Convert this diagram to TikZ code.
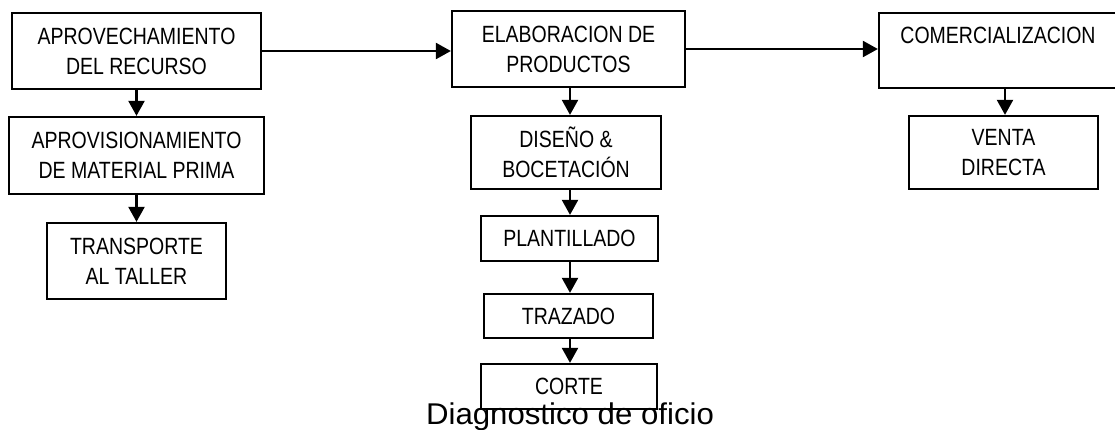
\documentclass[tikz,border=0pt]{standalone}
\usepackage{fontspec}
\setmainfont{Liberation Sans}
\newfontfamily\boxfont{Liberation Sans}[FakeStretch=0.83]
\newfontfamily\capfont{Liberation Sans}[FakeStretch=1.04]
\usetikzlibrary{arrows.meta}
\begin{document}
\begin{tikzpicture}[x=1pt,y=-1pt,
  box/.style={draw,line width=2.3pt,inner sep=0pt,align=center,
    font=\boxfont\fontsize{23.5}{30}\selectfont},
  arr/.style={line width=2.3pt,-{Triangle[length=15pt,width=16pt]}}]
\useasboundingbox (0,0) rectangle (1115,429);
\clip (0,0) rectangle (1115,429);
% left column
\node[box,minimum width=249pt,minimum height=76pt] (apr) at (136.5,51) {APROVECHAMIENTO\\DEL RECURSO};
\node[box,minimum width=255pt,minimum height=77pt] (apv) at (136.5,155.5) {APROVISIONAMIENTO\\DE MATERIAL PRIMA};
\node[box,minimum width=179pt,minimum height=76pt] (tra) at (136.5,261) {TRANSPORTE\\AL TALLER};
% middle column
\node[box,minimum width=233pt,minimum height=76pt] (ela) at (568.5,49) {ELABORACION DE\\PRODUCTOS};
\node[box,minimum width=190pt,minimum height=73pt] (dis) at (566,152.5) {DISEÑO \&\\BOCETACIÓN};
\node[box,minimum width=177pt,minimum height=45pt] (pla) at (569.5,238.5) {PLANTILLADO};
\node[box,minimum width=169pt,minimum height=44pt] (trz) at (568.5,316) {TRAZADO};
\node[box,minimum width=176pt,minimum height=45pt] (cor) at (569,386.5) {CORTE};
% right column
\node[box,minimum width=238pt,minimum height=75pt] (com) at (998,50.5) {COMERCIALIZACION\\\phantom{X}};
\node[box,minimum width=189pt,minimum height=73pt] (ven) at (1003.5,152.5) {VENTA\\DIRECTA};
% caption
\node[inner sep=0pt,anchor=base,font=\capfont\fontsize{30}{32}\selectfont] (cap) at (570,424) {Diagnostico de oficio};
% arrows
\draw[arr] (apr.south) -- (apv.north);
\draw[arr] (apv.south) -- (tra.north);
\draw[arr] (apr.east) -- (apr.east -| ela.west);
\draw[arr] (ela.east) -- (ela.east -| com.west);
\draw[arr] ([xshift=1.5pt]ela.south) -- ([xshift=1.5pt]ela.south |- dis.north);
\draw[arr] ([xshift=4pt]dis.south) -- ([xshift=4pt]dis.south |- pla.north);
\draw[arr] ([xshift=0.5pt]pla.south) -- ([xshift=0.5pt]pla.south |- trz.north);
\draw[arr] ([xshift=1.5pt]trz.south) -- ([xshift=1.5pt]trz.south |- cor.north);
\draw[arr] ([xshift=1.5pt]com.south -| ven.north) -- ([xshift=1.5pt]ven.north);
\end{tikzpicture}
\end{document}
